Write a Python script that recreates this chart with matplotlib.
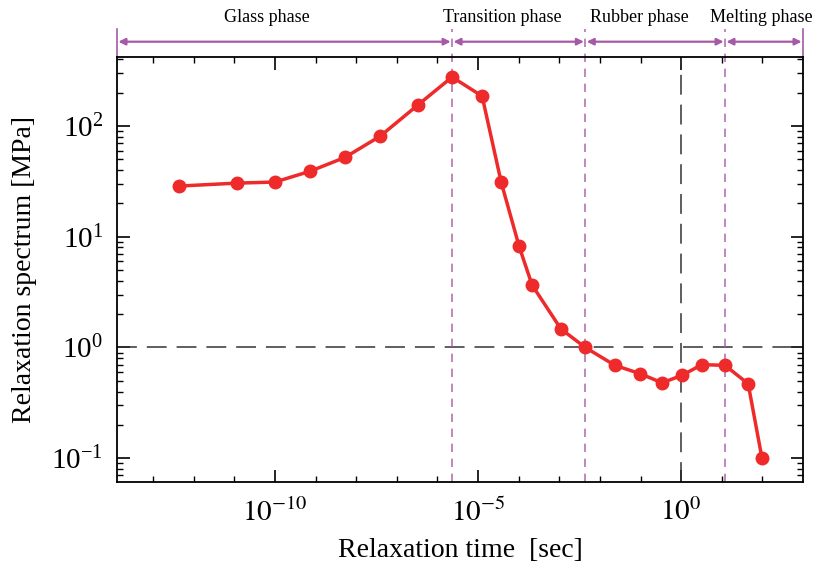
import numpy as np
import matplotlib
matplotlib.use("Agg")
import matplotlib.pyplot as plt
from matplotlib import ticker
from matplotlib.transforms import blended_transform_factory

plt.rcParams['font.family'] = ['Liberation Serif', 'DejaVu Serif']
plt.rcParams['mathtext.fontset'] = 'stix'

# relaxation spectrum (log10 of time, value in MPa)
log_tau = [-12.36, -10.94, -10.0, -9.14, -8.28, -7.41, -6.48, -5.64, -4.9,
           -4.43, -3.99, -3.67, -2.96, -2.36, -1.63, -1.01, -0.47, 0.02,
           0.51, 1.08, 1.65, 1.99]
H = [28.7, 30.5, 31.2, 39, 52, 81, 155, 277, 186,
     31, 8.2, 3.66, 1.47, 1.0, 0.69, 0.58, 0.48, 0.56,
     0.70, 0.69, 0.47, 0.10]

# phase boundaries (log10 sec) and names
bounds = [-13.89, -5.64, -2.36, 1.08, 3.0]
phases = ['Glass phase', 'Transition phase', 'Rubber phase', 'Melting phase']
label_x = [-10.2, -4.41, -1.03, 1.97]

purple = '#a65aa6'

fig = plt.figure(figsize=(8.18, 5.76), dpi=100)
ax = fig.add_axes([117/818, 1-482/576, (803-117)/818, (482-57)/576])

tau = 10.0 ** np.array(log_tau)
ax.plot(tau, H, '-o', color='#ee2a2a', lw=2.5, ms=9, zorder=5)

ax.set_xscale('log')
ax.set_yscale('log')

ax.axhline(1.0, color='#333333', lw=1.1, dashes=(13, 6.5))
ax.axvline(1.0, color='#333333', lw=1.1, dashes=(13, 6.5))

trans = blended_transform_factory(ax.transData, ax.transAxes)
for b in bounds[1:-1]:
    ax.plot([10**b, 10**b], [0, 1.065], color=purple, lw=1.2, dashes=(5, 4),
            transform=trans, clip_on=False, alpha=0.85, scalex=False, scaley=False)
for b in (bounds[0], bounds[-1]):
    ax.plot([10**b, 10**b], [1.0, 1.065], color=purple, lw=1.2,
            transform=trans, clip_on=False, scalex=False, scaley=False)

for i, name in enumerate(phases):
    ax.annotate('', xy=(10**bounds[i], 1.036), xytext=(10**bounds[i+1], 1.036),
                xycoords=trans, textcoords=trans,
                arrowprops=dict(arrowstyle='<|-|>', color=purple, lw=1.6,
                                mutation_scale=10, shrinkA=1, shrinkB=1))
    ax.text(10**label_x[i], 1.072, name, transform=trans, ha='center',
            va='bottom', fontsize=13)

# labelled ticks every five decades, plain ticks at each decade
ax.set_xticks([1e-10, 1e-5, 1e0])
ax.set_xticks([10.0**k for k in range(-13, 3) if k % 5 != 0], minor=True)
ax.xaxis.set_major_formatter(ticker.FuncFormatter(
    lambda v, p: r'$10^{%d}$' % round(np.log10(v))))
ax.xaxis.set_minor_formatter(ticker.NullFormatter())
ax.yaxis.set_minor_formatter(ticker.NullFormatter())

ax.set_xlim(10**bounds[0], 10**bounds[-1])
ax.set_ylim(0.061, 420)

ax.tick_params(which='both', direction='in', top=True, right=True, labelsize=21)
ax.tick_params(which='major', length=9, width=1.2)
ax.tick_params(which='minor', length=4, width=1.0)
ax.tick_params(axis='x', pad=12)
ax.tick_params(axis='y', pad=10)
for s in ax.spines.values():
    s.set_linewidth(1.3)

ax.set_xlabel('Relaxation time  [sec]', fontsize=20, labelpad=8)
ax.set_ylabel('Relaxation spectrum [MPa]', fontsize=20, labelpad=10)

fig.savefig('out.png', dpi=100)
